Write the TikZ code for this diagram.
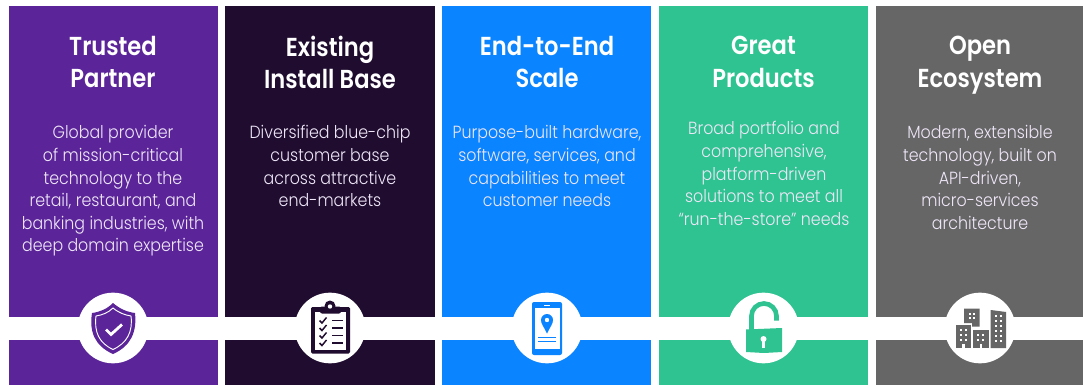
\documentclass[tikz,border=0pt]{standalone}
\usepackage{fontspec}
\setmainfont{Poppins}
\newfontfamily\titlefont[FakeStretch=0.87]{Poppins SemiBold}
\newfontfamily\bodyfont[FakeStretch=0.9]{Poppins Light}
\definecolor{cpurple}{HTML}{5B2599}
\definecolor{cdark}{HTML}{1F0C2F}
\definecolor{cblue}{HTML}{0A84FF}
\definecolor{cgreen}{HTML}{2FC391}
\definecolor{cgray}{HTML}{666666}
\definecolor{lightpurple}{HTML}{EFE6F8}
\newcommand{\fstline}{\rule{0pt}{14pt}}
\tikzset{
  titletext/.style={text=white,align=center,anchor=north,inner sep=0pt,
    font=\titlefont\fontsize{19.5}{24.6}\selectfont},
  bodytext/.style={text=lightpurple,align=center,anchor=north,inner sep=0pt,
    font=\bodyfont\fontsize{13.2}{16.95}\selectfont},
  iconcircle/.style={circle,fill=white,minimum size=53pt,inner sep=0pt}
}
\begin{document}
\begin{tikzpicture}[x=0.75pt,y=-0.75pt]
\useasboundingbox (0,0) rectangle (1083,385);
\fill[white] (0,0) rectangle (1083,385);
% panels
\fill[cpurple] (9,6) rectangle (218,385);
\fill[cdark] (225,6) rectangle (435,385);
\fill[cblue] (442,6) rectangle (651,385);
\fill[cgreen] (659,6) rectangle (868,385);
\fill[cgray] (876,6) rectangle (1083,385);
% band
\fill[white] (0,317) rectangle (1083,339.5);
% circles
\node[iconcircle] (c1) at (113,328) {};
\node[iconcircle] (c2) at (330,328) {};
\node[iconcircle] (c3) at (547,328) {};
\node[iconcircle] (c4) at (763.5,328) {};
\node[iconcircle] (c5) at (980,328) {};
% titles
\node[titletext] (t1) at (113,35.5) {\fstline Trusted\\Partner};
\node[titletext] (t2) at (330,35.5) {\fstline Existing\\Install Base};
\node[titletext] (t3) at (547,35.5) {\fstline End-to-End\\Scale};
\node[titletext] (t4) at (763.5,35.5) {\fstline Great\\Products};
\node[titletext] (t5) at (980,35.5) {\fstline Open\\Ecosystem};
% bodies
\node[bodytext] (b1) at (113,120) {\fstline Global provider\\of mission-critical\\technology to the\\retail, restaurant, and\\banking industries, with\\deep domain expertise};
\node[bodytext] (b2) at (330,120) {\fstline Diversified blue-chip\\customer base\\across attractive\\end-markets};
\node[bodytext] (b3) at (547,120) {\fstline Purpose-built hardware,\\software, services, and\\capabilities to meet\\customer needs};
\node[bodytext] (b4) at (764,116) {\fstline Broad portfolio and\\comprehensive,\\platform-driven\\solutions to meet all\\“run-the-store” needs};
\node[bodytext] (b5) at (980,120) {\fstline Modern, extensible\\technology, built on\\API-driven,\\micro-services\\architecture};
% shield
\fill[cpurple] (113,303) .. controls (120,309) and (127,312) .. (135,313)
  .. controls (137,332) and (131,346) .. (113,354)
  .. controls (95,346) and (89,332) .. (92,313)
  .. controls (100,312) and (107,309) .. (113,303) -- cycle;
\draw[white,line width=0.7pt] (113,308) .. controls (119,313) and (125,315) .. (131,316)
  .. controls (133,332) and (127,343) .. (113,349.5)
  .. controls (99,343) and (94,332) .. (96,316)
  .. controls (102,315) and (108,313) .. (113,308) -- cycle;
\draw[white,line width=2.1pt] (106,329.5) -- (111,334.5) -- (122,324.5);
% clipboard
\fill[cdark,rounded corners=1pt] (311,307) rectangle (350,353.5);
\fill[white] (315,312) rectangle (346,349.5);
\fill[cdark,rounded corners=1.5pt] (320,306.5) rectangle (341,313.5);
\fill[cdark] (330,306) circle[radius=5.5];
\fill[white] (330,306.5) circle[radius=2.2];
\foreach \yy in {320.5,328,335.5,343}{
  \draw[cdark,line width=1.1pt] (319.5,\yy) -- (322,\yy+2.5) -- (326.5,\yy-3);
  \draw[cdark,line width=1.4pt] (332,\yy) -- (342.5,\yy);
}
% phone
\fill[cblue,rounded corners=1.5pt] (532,302) rectangle (562,355);
\fill[white] (535,308) rectangle (559.5,348.5);
\draw[white,line width=0.7pt] (544,305) -- (550,305);
\fill[cblue] (547,333.5) .. controls (544,327) and (541,324) .. (541,320)
  arc[start angle=180,end angle=360,radius=6]
  .. controls (553,324) and (550,327) .. (547,333.5) -- cycle;
\fill[white] (547,320) circle[radius=2.2];
\draw[cblue,line width=0.7pt] (538,337) -- (556,337);
\draw[cblue,line width=0.7pt] (538,341) -- (556,341);
% lock
\draw[cgreen,line width=3.5pt] (751.5,330) -- (751.5,316)
  arc[start angle=180,end angle=360,radius=12.5] -- (776.5,320.5);
\fill[cgreen] (746,329.5) -- (782,328) -- (782,352) -- (764,353) -- (746,352) -- cycle;
\fill[white] (763.5,339) circle[radius=3];
\fill[white] (762.3,339) -- (764.7,339) -- (764.7,348) -- (762.3,348) -- cycle;
% buildings
\fill[cgray] (964,308.5) rectangle (979.5,323) (972,323) rectangle (979.5,326.5);
\fill[cgray] (955.7,325) rectangle (970.7,348);
\fill[cgray] (973.3,330) rectangle (988.7,348);
\fill[cgray] (990.7,310) -- (1006,312) -- (1006,348) -- (990.7,348) -- cycle;
\foreach \xx in {968.5,972.5}\foreach \yy in {312.5,316.5}{\fill[white] (\xx,\yy) rectangle +(2.4,2.4);}
\foreach \xx in {959.5,964.5}\foreach \yy in {329,334,339}{\fill[white] (\xx,\yy) rectangle +(2.4,2.4);}
\foreach \xx in {977,982}\foreach \yy in {334,339}{\fill[white] (\xx,\yy) rectangle +(2.4,2.4);}
\foreach \xx in {994.5,999.5}\foreach \yy in {315,320,325,330,335,340}{\fill[white] (\xx,\yy) rectangle +(2.4,2.4);}
\fill[white] (962,344) rectangle +(2.6,4);
\fill[white] (979.8,344) rectangle +(2.6,4);
\end{tikzpicture}
\end{document}
